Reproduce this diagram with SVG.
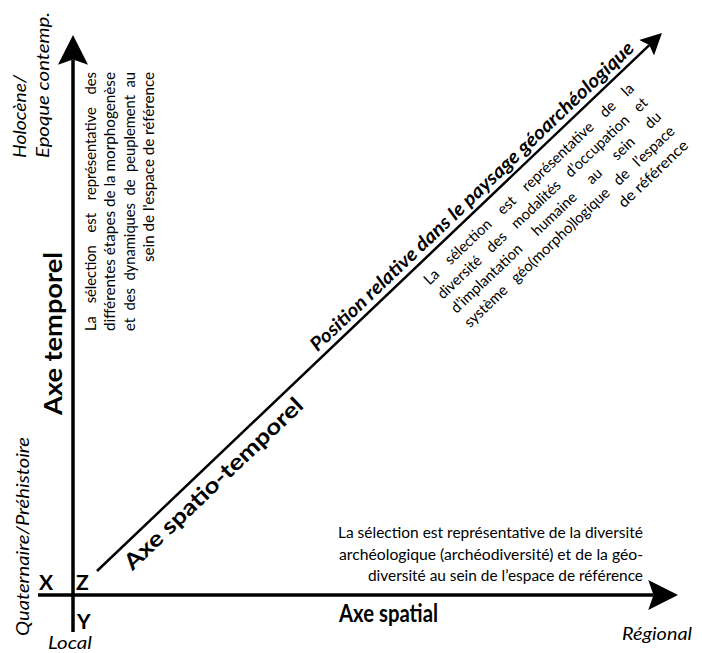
<svg xmlns="http://www.w3.org/2000/svg" width="702" height="653" viewBox="0 0 702 653">
<style>
text{font-family:Lato,"Open Sans","DejaVu Sans",sans-serif;fill:#000}
.b{font-weight:700}
.i{font-style:italic}
.body{font-size:15px}
.hb{font-size:15.5px}
.lbl{font-size:18px;font-style:italic}
.xyz{font-size:21px;font-weight:700}
.title{font-size:24px;font-weight:700}
.ax{stroke:#000;fill:none}
</style>
<defs>
<marker id="ah" viewBox="0 -5 10 10" markerUnits="strokeWidth" markerWidth="10" markerHeight="10" refX="1.5" refY="0" orient="auto">
<path d="M0,-4.3 L8.5,0 L0,4.3 L1.5,0 Z" fill="#000"/>
</marker>
</defs>
<rect width="702" height="653" fill="#fff"/>
<g id="connectors">
<line class="ax" x1="38" y1="595" x2="653.5" y2="595" stroke-width="3.5" marker-end="url(#ah)"/>
<line class="ax" x1="73" y1="632" x2="73" y2="59.5" stroke-width="3.5" marker-end="url(#ah)"/>
<line class="ax" x1="97" y1="571" x2="649.3" y2="45.1" stroke-width="2.5" marker-end="url(#ah)"/>
</g>
<g id="origin">
<text class="xyz" x="39" y="590">X</text>
<text class="xyz" x="76" y="590">Z</text>
<text class="xyz" x="77" y="628.5" font-size="20">Y</text>
</g>
<g id="temporal-axis">
<text class="title" transform="translate(62,415) rotate(-90)" textLength="163" lengthAdjust="spacingAndGlyphs">Axe temporel</text>
<text class="lbl" transform="translate(26,158) rotate(-90)" textLength="83" lengthAdjust="spacingAndGlyphs">Holocène/</text>
<text class="lbl" transform="translate(48.5,158) rotate(-90)" textLength="146" lengthAdjust="spacingAndGlyphs">Epoque contemp.</text>
<text class="lbl" transform="translate(29,636) rotate(-90)" textLength="199" lengthAdjust="spacingAndGlyphs">Quaternaire/Préhistoire</text>
<g class="body">
<text transform="translate(95.5,331) rotate(-90)" word-spacing="9.2" textLength="259" lengthAdjust="spacingAndGlyphs">La sélection est représentative des</text>
<text transform="translate(115,331) rotate(-90)" textLength="259" lengthAdjust="spacingAndGlyphs">différentes étapes de la morphogenèse</text>
<text transform="translate(134.5,331) rotate(-90)" word-spacing="3.8" textLength="259" lengthAdjust="spacingAndGlyphs">et des dynamiques de peuplement au</text>
<text transform="translate(154,72) rotate(-90)" text-anchor="end" textLength="190" lengthAdjust="spacingAndGlyphs">sein de l'espace de référence</text>
</g>
</g>
<g id="spatial-axis">
<text class="title" x="339" y="622" textLength="99" lengthAdjust="spacingAndGlyphs">Axe spatial</text>
<text class="lbl" x="48" y="649" font-size="16" textLength="44" lengthAdjust="spacingAndGlyphs">Local</text>
<text class="lbl" x="622" y="640" textLength="70" lengthAdjust="spacingAndGlyphs">Régional</text>
<g class="hb" text-anchor="end">
<text x="643" y="538" textLength="305" lengthAdjust="spacingAndGlyphs">La sélection est représentative de la diversité</text>
<text x="643" y="559.5" textLength="304" lengthAdjust="spacingAndGlyphs">archéologique (archéodiversité) et de la géo-</text>
<text x="643" y="581" textLength="275" lengthAdjust="spacingAndGlyphs">diversité au sein de l’espace de référence</text>
</g>
</g>
<g id="spatiotemporal-axis" transform="rotate(-43.6)">
<text class="b" x="-298" y="505" font-size="22" textLength="238" lengthAdjust="spacingAndGlyphs">Axe spatio-temporel</text>
<text class="i" x="-13" y="474" font-size="19" font-weight="700" textLength="439" lengthAdjust="spacingAndGlyphs">Position relative dans le paysage géoarchéologique</text>
<g class="body">
<text x="114" y="503" word-spacing="10.8" textLength="284" lengthAdjust="spacingAndGlyphs">La sélection est représentative de la</text>
<text x="114" y="522.6" word-spacing="8.5" textLength="284" lengthAdjust="spacingAndGlyphs">diversité des modalités d’occupation et</text>
<text x="114" y="542.2" word-spacing="15.9" textLength="284" lengthAdjust="spacingAndGlyphs">d’implantation humaine au sein du</text>
<text x="114" y="561.8" word-spacing="7.3" textLength="284" lengthAdjust="spacingAndGlyphs">système géo(morpho)logique de l’espace</text>
<text x="398" y="581.4" text-anchor="end" textLength="90" lengthAdjust="spacingAndGlyphs">de référence</text>
</g>
</g>
</svg>
